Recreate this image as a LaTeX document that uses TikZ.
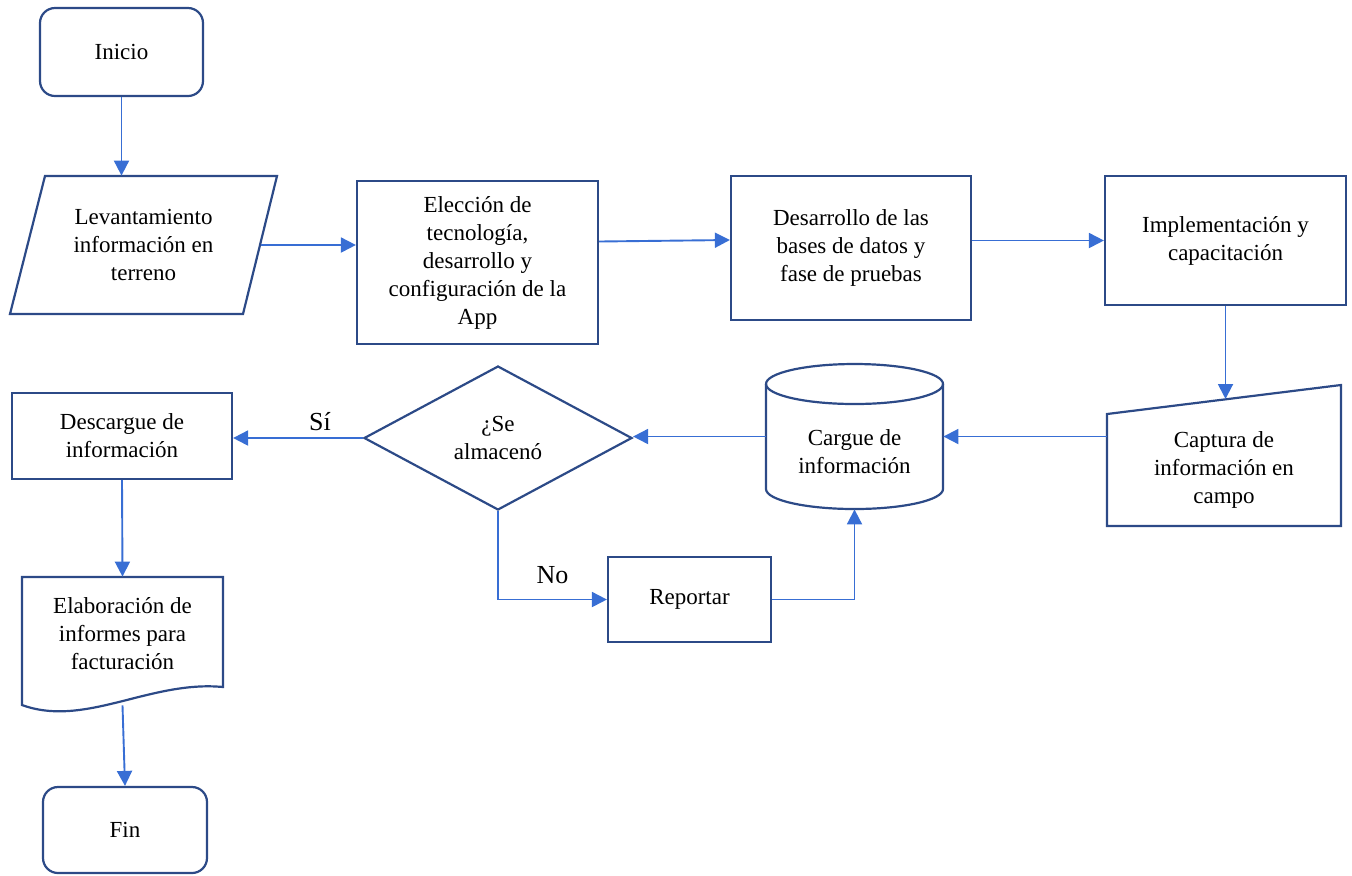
\documentclass[tikz,border=0pt]{standalone}
\usepackage{fontspec}
\setmainfont{Liberation Serif}
\usetikzlibrary{shapes.geometric,arrows.meta}
\definecolor{boxblue}{RGB}{44,74,135}
\definecolor{arrblue}{RGB}{56,110,212}
\begin{document}
\begin{tikzpicture}[x=0.5pt,y=-0.5pt,
  every node/.style={font=\fontsize{11.5}{14}\selectfont, align=center},
  box/.style={draw=boxblue, line width=1.1pt, rectangle, inner sep=0pt},
  term/.style={box, rounded corners=7.5pt},
  outline/.style={draw=boxblue, line width=1.1pt},
  lbl/.style={font=\fontsize{13}{15}\selectfont},
  arr/.style={draw=arrblue, line width=0.95pt, -{Triangle[length=7.5pt,width=7.5pt]}}]
\useasboundingbox (0,0) rectangle (1352,875);

\node[term, minimum width=81.5pt, minimum height=44pt] (inicio) at (121.5,52) {Inicio};

% datos
\node[minimum width=117pt, minimum height=69pt, inner sep=0pt] (lev) at (143.5,245) {Levantamiento\\información en\\terreno};
\draw[outline] (45,176) -- (277,176) -- (243,314) -- (10,314) -- cycle;

\node[box, minimum width=120.5pt, minimum height=81.5pt] (elec) at (477.5,262.5)
  {Elección de\\tecnología,\\desarrollo y\\configuración de la\\App};
\node[box, minimum width=120pt, minimum height=72pt] (desa) at (851,248) {Desarrollo de las\\bases de datos y\\fase de pruebas};
\node[box, minimum width=120.5pt, minimum height=64.5pt] (impl) at (1225.5,240.5) {Implementación y\\capacitación};

% entrada manual
\node[minimum width=117pt, minimum height=56pt, inner sep=0pt] (capt) at (1224,470) {Captura de\\información en\\campo};
\draw[outline] (1107,414) -- (1341,385) -- (1341,526) -- (1107,526) -- cycle;
\coordinate (capttop) at (1225.5,399);

% base de datos
\node[minimum width=88.5pt, minimum height=72.5pt, inner sep=0pt] (cargue) at (854.5,436.5) {};
\node (carguetxt) at (854.5,451.5) {Cargue de\\información};
\draw[outline] (766,384) -- (766,489) arc[start angle=180, end angle=360, x radius=44.25pt, y radius=10pt] -- (943,384);
\draw[outline] (854.5,384) ellipse [x radius=44.25pt, y radius=10pt];

\node[box, diamond, aspect=1.86, minimum width=134pt, minimum height=72pt] (dec) at (498,438) {¿Se\\almacenó};
\node[box, minimum width=110pt, minimum height=43pt] (desc) at (122,436) {Descargue de\\información};
\node[box, minimum width=81.5pt, minimum height=42.5pt] (rep) at (689.5,599.5) {Reportar};

% documento
\node[minimum width=100.5pt, minimum height=64pt, inner sep=0pt] (elab) at (122.5,641) {};
\node (elabtxt) at (122.5,633.5) {Elaboración de\\informes para\\facturación};
\draw[outline] (22,705) -- (22,577) -- (223,577) -- (223,687) .. controls (150,680) and (85,728) .. (22,705) -- cycle;

\node[term, minimum width=82pt, minimum height=43pt] (fin) at (125,830) {Fin};

\draw[arr] (inicio.south) -- (inicio.south |- lev.north);
\draw[arr] (lev.east) -- (lev.east -| elec.west);
\draw[arr] ([yshift=10.5pt]elec.east) -- ([yshift=4pt]desa.west);
\draw[arr] (desa.east |- impl.west) -- (impl.west);
\draw[arr] (impl.south) -- (capttop);
\draw[arr] (capt.west |- cargue.east) -- (cargue.east);
\draw[arr] (cargue.west) -- (cargue.west -| dec.east);
\draw[arr] (dec.west) -- (dec.west -| desc.east) node[lbl, pos=0.33, above] {Sí};
\draw[arr] (desc.south) -- (elab.north);
\draw[arr] (elab.south) -- (fin.north);
\draw[arr] (dec.south) |- (rep.west) node[lbl, pos=0.75, above=4pt] {No};
\draw[arr] (rep.east) -| (cargue.south);
\end{tikzpicture}
\end{document}
